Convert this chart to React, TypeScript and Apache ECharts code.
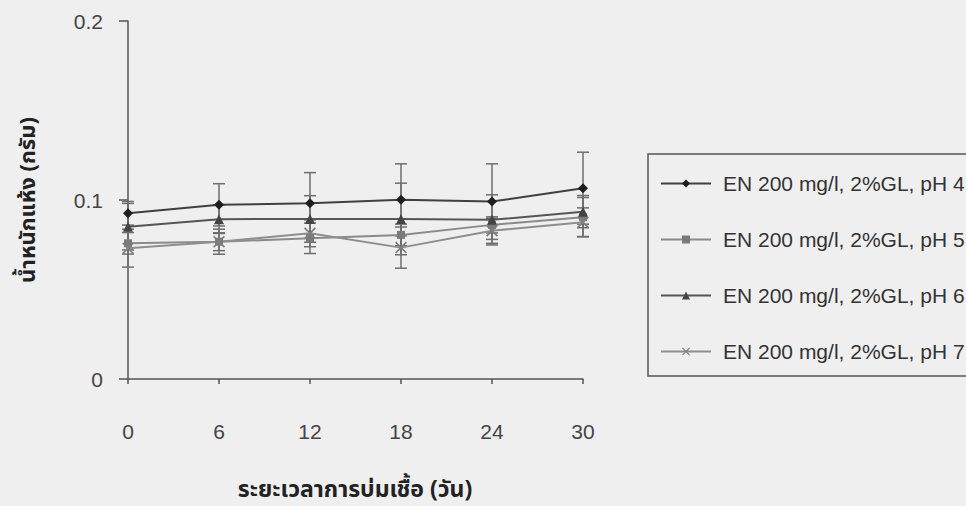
import React, { useEffect, useRef } from "react";
import * as echarts from "echarts";

const days = [0, 6, 12, 18, 24, 30];
const seriesNames = [
  "EN 200 mg/l, 2%GL, pH 4",
  "EN 200 mg/l, 2%GL, pH 5",
  "EN 200 mg/l, 2%GL, pH 6",
  "EN 200 mg/l, 2%GL, pH 7",
];
const ph4Mean = [0.0926, 0.0973, 0.0982, 0.1001, 0.0991, 0.1066];
const ph4Err = [0.0066, 0.0118, 0.0171, 0.0201, 0.0211, 0.0201];
const ph5Mean = [0.0758, 0.0767, 0.0786, 0.0805, 0.0861, 0.0904];
const ph5Err = [0.006, 0.005, 0.0085, 0.006, 0.0045, 0.011];
const ph6Mean = [0.0851, 0.0893, 0.0894, 0.0894, 0.0889, 0.0935];
const ph6Err = [0.013, 0.008, 0.013, 0.02, 0.014, 0.009];
const ph7Mean = [0.0731, 0.0767, 0.0814, 0.0734, 0.0828, 0.0876];
const ph7Err = [0.0106, 0.007, 0.0075, 0.0115, 0.007, 0.008];

const xTitle = "ระยะเวลาการบ่มเชื้อ (วัน)";
const yTitle = "น้ำหนักแห้ง (กรัม)";

const means = [ph4Mean, ph5Mean, ph6Mean, ph7Mean];
const errs = [ph4Err, ph5Err, ph6Err, ph7Err];
const lineColors = ["#404040", "#8a8a8a", "#555555", "#8e8e8e"];
const markerColors = ["#1e1e1e", "#7a7a7a", "#444444", "#7e7e7e"];
const symbols = [
  "diamond",
  "rect",
  "triangle",
  "path://M0,1 L1,0 L5,4 L9,0 L10,1 L6,5 L10,9 L9,10 L5,6 L1,10 L0,9 L4,5 Z",
];
const symbolSizes = [10, 8, 10, 12];

const FONT = "'Liberation Sans', Arial, sans-serif";
const THAI = "Tahoma, 'Noto Sans Thai', 'Loma', 'Garuda', 'DejaVu Sans', sans-serif";

export default function App() {
  const ref = useRef<HTMLDivElement>(null);
  useEffect(() => {
    if (!ref.current) return;
    const chart = echarts.init(ref.current, null, { renderer: "svg" });
    const lineSeries = seriesNames.map((name, i) => ({
      name,
      type: "line",
      data: days.map((d, j) => [d, means[i][j]]),
      symbol: symbols[i],
      symbolSize: symbolSizes[i],
      showSymbol: true,
      lineStyle: { color: lineColors[i], width: 2 },
      itemStyle: { color: markerColors[i] },
      z: 3,
    }));
    const errSeries = seriesNames.map((name, i) => ({
      name: name + " err",
      type: "custom",
      data: days.map((d, j) => [d, means[i][j], errs[i][j]]),
      z: 2,
      silent: true,
      renderItem: (params: any, api: any) => {
        const x = api.value(0);
        const y = api.value(1);
        const e = api.value(2);
        const top = api.coord([x, y + e]);
        const bot = api.coord([x, y - e]);
        const hw = 6;
        const st = { stroke: "#6e6e6e", lineWidth: 1.5 };
        return {
          type: "group",
          children: [
            { type: "line", shape: { x1: top[0], y1: top[1], x2: bot[0], y2: bot[1] }, style: st },
            { type: "line", shape: { x1: top[0] - hw, y1: top[1], x2: top[0] + hw, y2: top[1] }, style: st },
            { type: "line", shape: { x1: bot[0] - hw, y1: bot[1], x2: bot[0] + hw, y2: bot[1] }, style: st },
          ],
        };
      },
    }));
    chart.setOption({
      animation: false,
      backgroundColor: "#efefef",
      grid: { left: 128, right: 383, top: 21, bottom: 127, containLabel: false },
      legend: {
        data: seriesNames,
        orient: "vertical",
        left: 648,
        top: 154,
        padding: [19, 60, 14, 12],
        itemGap: 35,
        itemWidth: 50,
        itemHeight: 10,
        borderColor: "#555",
        borderWidth: 1.5,
        backgroundColor: "#efefef",
        textStyle: { fontFamily: FONT, fontSize: 21, color: "#333", padding: [0, 0, 0, 7] },
      },
      graphic: [
        {
          type: "text",
          x: 355,
          y: 490,
          style: {
            text: xTitle,
            font: "bold 23px " + THAI,
            fill: "#222",
            align: "center",
            verticalAlign: "middle",
          },
        },
        {
          type: "text",
          x: 28,
          y: 200,
          rotation: Math.PI / 2,
          style: {
            text: yTitle,
            font: "bold 22px " + THAI,
            fill: "#222",
            align: "center",
            verticalAlign: "middle",
          },
        },
      ],
      xAxis: {
        type: "value",
        min: 0,
        max: 30,
        interval: 6,
        axisLine: { show: true, lineStyle: { color: "#555", width: 1.5 } },
        axisTick: { show: true, length: 5, lineStyle: { color: "#555", width: 1.5 } },
        axisLabel: { margin: 42, fontFamily: FONT, fontSize: 21, color: "#444" },
        splitLine: { show: false },
      },
      yAxis: {
        type: "value",
        min: 0,
        max: 0.2,
        interval: 0.1,
        axisLine: { show: true, lineStyle: { color: "#555", width: 1.5 } },
        axisTick: { show: true, length: 9, lineStyle: { color: "#555", width: 1.5 } },
        axisLabel: { margin: 25, fontFamily: FONT, fontSize: 21, color: "#444" },
        splitLine: { show: false },
      },
      series: [...errSeries, ...lineSeries],
    });
    return () => chart.dispose();
  }, []);
  return (
    <div
      ref={ref}
      style={{ position: "fixed", left: 0, top: 0, width: 966, height: 506, background: "#efefef" }}
    />
  );
}
